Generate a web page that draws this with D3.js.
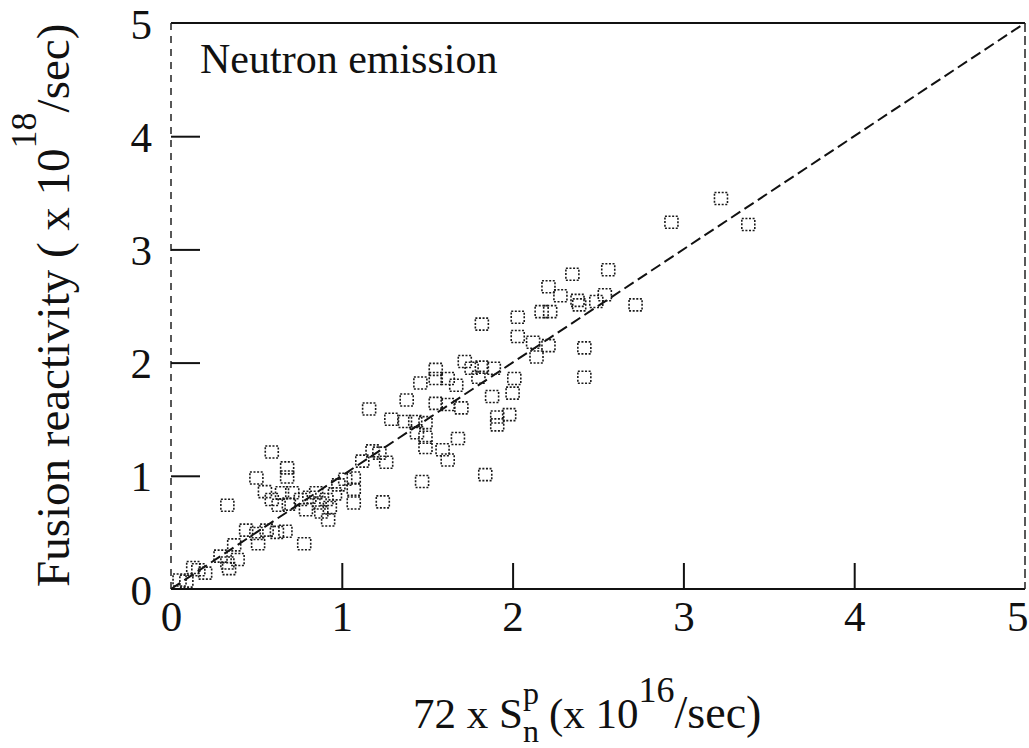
<!DOCTYPE html>
<html>
<head>
<meta charset="utf-8">
<script src="https://cdn.jsdelivr.net/npm/d3@7"></script>
<style>
  body { margin: 0; background: #fff; }
  svg { display: block; font-family: "Liberation Serif", "Times New Roman", serif; }
</style>
</head>
<body>
<svg id="chart"></svg>
<script>
// 72 x S_n^p (x 1e16/sec) vs fusion reactivity (x 1e18/sec)
const snValues = [
    0.05, 0.09, 0.13, 0.16, 0.20, 0.29, 0.33, 0.34, 0.39, 0.37, 0.33,
    0.44, 0.50, 0.56, 0.62, 0.67, 0.51, 0.78,
    0.50, 0.59, 0.68, 0.68,
    0.55, 0.59, 0.65, 0.71, 0.63, 0.69, 0.76, 0.81, 0.85, 0.87, 0.79, 0.91, 0.93, 0.92,
    0.98, 1.02, 1.07, 1.07, 1.07, 0.96, 0.88,
    1.12, 1.18, 1.22, 1.26, 1.24, 1.16,
    1.29, 1.37, 1.43, 1.49, 1.44, 1.49, 1.49, 1.38, 1.46,
    1.59, 1.68, 1.62, 1.84, 1.47,
    1.55, 1.62, 1.70,
    1.55, 1.55, 1.62, 1.67,
    1.72, 1.76, 1.82, 1.89, 1.80,
    1.82, 2.03, 2.03,
    2.01, 2.00, 1.88, 1.91, 1.98, 1.91,
    2.12, 2.21, 2.14, 2.42, 2.42,
    2.17, 2.22, 2.21, 2.28, 2.38, 2.39, 2.49, 2.54, 2.72, 2.35, 2.56,
    2.93, 3.22, 3.38
]
const fusionValues = [
    0.08, 0.07, 0.19, 0.17, 0.14, 0.29, 0.23, 0.18, 0.26, 0.39, 0.74,
    0.52, 0.49, 0.52, 0.50, 0.51, 0.40, 0.40,
    0.98, 1.21, 1.07, 0.99,
    0.86, 0.79, 0.85, 0.85, 0.74, 0.75, 0.79, 0.81, 0.85, 0.76, 0.70, 0.79, 0.72, 0.61,
    0.92, 0.97, 0.98, 0.88, 0.76, 0.84, 0.68,
    1.13, 1.22, 1.20, 1.12, 0.77, 1.59,
    1.50, 1.48, 1.48, 1.47, 1.38, 1.34, 1.25, 1.67, 1.82,
    1.23, 1.33, 1.14, 1.01, 0.95,
    1.64, 1.63, 1.60,
    1.94, 1.86, 1.86, 1.80,
    2.01, 1.95, 1.96, 1.95, 1.87,
    2.34, 2.40, 2.23,
    1.86, 1.73, 1.70, 1.52, 1.54, 1.45,
    2.18, 2.15, 2.05, 2.13, 1.87,
    2.45, 2.45, 2.67, 2.59, 2.55, 2.51, 2.54, 2.60, 2.51, 2.78, 2.82,
    3.24, 3.45, 3.22
]
const xTicks = [0, 1, 2, 3, 4, 5]
const yTicks = [0, 1, 2, 3, 4, 5]
const fitLine = [[0, 0], [5, 5]]

const w = 1029
const h = 748
const plotL = 171, plotR = 1025, plotT = 23, plotB = 589
const boxW = 13, boxH = 12

const data = snValues.map((d, i) => ({ sn: d, fr: fusionValues[i] }))

const svg = d3.select("#chart")
    .attr("width", w)
    .attr("height", h)

svg.append("rect")
    .attr("width", w)
    .attr("height", h)
    .attr("fill", "#fff")

const xScale = d3.scaleLinear()
    .domain([0, 5])
    .range([plotL, plotR])

const yScale = d3.scaleLinear()
    .domain([0, 5])
    .range([plotB, plotT])

// frame: solid top and bottom, broken left and right
svg.append("line")
    .attr("x1", plotL).attr("x2", plotR)
    .attr("y1", plotT).attr("y2", plotT)
    .attr("stroke", "#111").attr("stroke-width", 2)

svg.append("line")
    .attr("x1", plotL).attr("x2", plotR)
    .attr("y1", plotB).attr("y2", plotB)
    .attr("stroke", "#111").attr("stroke-width", 2)

svg.append("line")
    .attr("x1", plotL).attr("x2", plotL)
    .attr("y1", plotT).attr("y2", plotB)
    .attr("stroke", "#222").attr("stroke-width", 1.5)
    .attr("stroke-dasharray", "7,6")

svg.append("line")
    .attr("x1", plotR).attr("x2", plotR)
    .attr("y1", plotT).attr("y2", plotB)
    .attr("stroke", "#222").attr("stroke-width", 1.5)
    .attr("stroke-dasharray", "9,4")

// axes with inward ticks
const xAxis = svg.append("g")
    .attr("transform", `translate(0, ${plotB})`)
    .call(d3.axisBottom(xScale)
        .tickValues(xTicks)
        .tickFormat(d3.format("d"))
        .tickSizeInner(-26)
        .tickSizeOuter(0)
        .tickPadding(42))

const yAxis = svg.append("g")
    .attr("transform", `translate(${plotL}, 0)`)
    .call(d3.axisLeft(yScale)
        .tickValues(yTicks)
        .tickFormat(d3.format("d"))
        .tickSizeInner(-29)
        .tickSizeOuter(0)
        .tickPadding(19))

for (const ax of [xAxis, yAxis]) {
    ax.select(".domain").remove()
    ax.selectAll(".tick line")
        .attr("stroke", "#111")
        .attr("stroke-width", 2)
        .filter(d => d == 0 || d == 5)
        .remove()
    ax.selectAll(".tick text")
        .attr("fill", "#111")
        .style("font-size", "43px")
        .style("font-family", "'Liberation Serif', serif")
}
xAxis.selectAll(".tick text").attr("dy", "0")
// last x label sits flush with the right edge, as in the scan
xAxis.selectAll(".tick text")
    .filter(d => d == 5)
    .attr("text-anchor", "end")
    .attr("x", 3)
yAxis.selectAll(".tick text").attr("dy", "0.35em")

// y = x reference line
svg.append("path")
    .datum(fitLine)
    .attr("d", d3.line().x(d => xScale(d[0])).y(d => yScale(d[1])))
    .attr("fill", "none")
    .attr("stroke", "#111")
    .attr("stroke-width", 2)
    .attr("stroke-dasharray", "11,5")

// dotted open squares
svg.append("g")
    .selectAll("rect")
    .data(data)
    .join("rect")
    .attr("x", d => xScale(d.sn) - boxW / 2)
    .attr("y", d => yScale(d.fr) - boxH / 2)
    .attr("width", boxW)
    .attr("height", boxH)
    .attr("fill", "none")
    .attr("stroke", "#1a1a1a")
    .attr("stroke-width", 1.6)
    .attr("stroke-dasharray", "2,1.6")

svg.append("text")
    .attr("x", 200)
    .attr("y", 73)
    .attr("fill", "#111")
    .style("font-size", "42px")
    .text("Neutron emission")

// y title, rotated
const yTitle = svg.append("text")
    .attr("transform", "translate(69, 587) rotate(-90)")
    .attr("fill", "#111")
    .style("font-size", "47px")
yTitle.append("tspan").text("Fusion reactivity ( x 10")
yTitle.append("tspan").attr("dy", -33).style("font-size", "36px").text("18")
yTitle.append("tspan").attr("dy", 33).text("/sec)")

// x title with S sub n sup p
const xTitle = svg.append("text")
    .attr("y", 728)
    .attr("fill", "#111")
    .style("font-size", "43px")
xTitle.append("tspan").attr("x", 413).text("72 x S")
const sup = xTitle.append("tspan").attr("dy", -24).style("font-size", "32px").text("p")
const supW = sup.node().getComputedTextLength()
xTitle.append("tspan").attr("dx", -supW).attr("dy", 38).style("font-size", "32px").text("n")
xTitle.append("tspan").attr("x", 549).attr("dy", -14).text("(x 10")
xTitle.append("tspan").attr("dy", -26).style("font-size", "36px").text("16")
xTitle.append("tspan").attr("dy", 26).style("font-size", "46px").text("/sec)")
</script>
</body>
</html>
